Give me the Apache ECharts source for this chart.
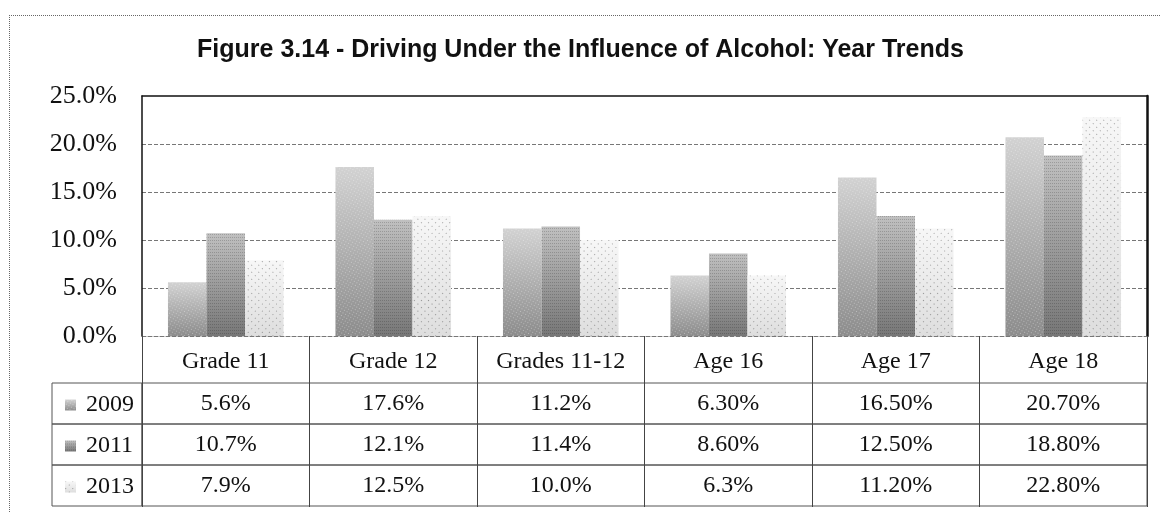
<!DOCTYPE html>
<html>
<head>
<meta charset="utf-8">
<script src="https://cdn.jsdelivr.net/npm/echarts@6/dist/echarts.min.js"></script>
<style>
  html, body { margin: 0; padding: 0; background: #fff; }
  #chart { position: absolute; left: 0; top: 0; width: 1161px; height: 513px; }
  #frame {
    position: absolute; left: 9px; top: 15px; width: 1160px; height: 510px;
    border-top: 1px dotted #666; border-left: 1px dotted #666; pointer-events: none;
  }
</style>
</head>
<body>
<div id="chart"></div>
<div id="frame"></div>
<script>
// 数据
const categories = ['Grade 11', 'Grade 12', 'Grades 11-12', 'Age 16', 'Age 17', 'Age 18']
const years = ['2009', '2011', '2013']
const values2009 = [5.6, 17.6, 11.2, 6.3, 16.5, 20.7]
const values2011 = [10.7, 12.1, 11.4, 8.6, 12.5, 18.8]
const values2013 = [7.9, 12.5, 10.0, 6.3, 11.2, 22.8]
// 表格里的文字（原图格式不统一，照抄）
const cells2009 = ['5.6%', '17.6%', '11.2%', '6.30%', '16.50%', '20.70%']
const cells2011 = ['10.7%', '12.1%', '11.4%', '8.60%', '12.50%', '18.80%']
const cells2013 = ['7.9%', '12.5%', '10.0%', '6.3%', '11.20%', '22.80%']
const yTicks = [0, 5, 10, 15, 20, 25]

const SERIF = 'Liberation Serif'
const ROW_TOP = 383
const ROW_H = 41

const chart = echarts.init(document.getElementById('chart'))

const gradient = (top, bottom) => ({
  type: 'linear',
  x: 0, y: 0, x2: 0, y2: 1,
  colorStops: [
    { offset: 0, color: top },
    { offset: 1, color: bottom }
  ]
})

const barStyles = [
  { color: gradient('#d2d2d2', '#8c8c8c'), decal: { symbol: 'rect', symbolSize: 1, dashArrayX: [1, 2], dashArrayY: [1, 2], color: 'rgba(255,255,255,0.35)' } },
  { color: gradient('#c0c0c0', '#777777'), decal: { symbol: 'rect', symbolSize: 1, dashArrayX: [1, 1], dashArrayY: [1, 2], color: 'rgba(0,0,0,0.18)' } },
  { color: gradient('#f7f7f7', '#dedede'), decal: { symbol: 'rect', symbolSize: 1, dashArrayX: [1, 4], dashArrayY: [1, 4], color: 'rgba(0,0,0,0.35)' } }
]

const rowCells = [cells2009, cells2011, cells2013]
const seriesValues = [values2009, values2011, values2013]

// 表格行：每行一个 grid，文字用类目轴标签
const rowGrids = rowCells.map((_, i) => ({
  left: 142, right: 14, top: ROW_TOP + i * ROW_H, height: ROW_H,
  show: true, borderColor: '#555', borderWidth: 1, backgroundColor: 'transparent'
}))
// 图例列的格子
const legendGrids = rowCells.map((_, i) => ({
  left: 52, width: 90, top: ROW_TOP + i * ROW_H, height: ROW_H,
  show: true, borderColor: '#555', borderWidth: 1, backgroundColor: 'transparent'
}))

const option = {
  animation: false,
  aria: { enabled: true, decal: { show: true } },
  title: {
    text: 'Figure 3.14 - Driving Under the Influence of Alcohol: Year Trends',
    left: 'center',
    top: 33,
    textStyle: { fontFamily: 'Liberation Sans', fontWeight: 'bold', fontSize: 25, color: '#111' }
  },
  legend: {
    orient: 'vertical',
    left: 60,
    top: 388,
    itemWidth: 11,
    itemHeight: 11,
    itemGap: 17,
    icon: 'rect',
    data: years,
    textStyle: { fontFamily: SERIF, fontSize: 24, lineHeight: 24, color: '#111', padding: [0, 0, 0, 5] }
  },
  grid: [
    { left: 142, right: 14, top: 96, height: 240 },
    ...rowGrids,
    ...legendGrids
  ],
  xAxis: [
    {
      type: 'category',
      gridIndex: 0,
      data: categories,
      axisLine: { lineStyle: { color: '#777', type: [4, 2] } },
      axisTick: { show: true, interval: 0, length: 171, lineStyle: { color: '#444' } },
      axisLabel: { interval: 0, margin: 14, fontFamily: SERIF, fontSize: 24, color: '#111' }
    },
    {
      type: 'category',
      gridIndex: 0,
      position: 'top',
      data: categories,
      axisLine: { onZero: false, lineStyle: { color: '#111', width: 1.5 } },
      axisTick: { show: false },
      axisLabel: { show: false }
    },
    ...rowCells.map((cells, i) => ({
      type: 'category',
      gridIndex: i + 1,
      position: 'top',
      data: cells,
      axisLine: { show: false },
      axisTick: { show: false },
      axisLabel: { inside: true, interval: 0, margin: 9, fontFamily: SERIF, fontSize: 24, color: '#111' }
    })),
    ...legendGrids.map((_, i) => ({ type: 'value', gridIndex: i + 4, show: false }))
  ],
  yAxis: [
    {
      type: 'value',
      gridIndex: 0,
      min: yTicks[0],
      max: yTicks[yTicks.length - 1],
      interval: yTicks[1] - yTicks[0],
      axisLine: { show: true, lineStyle: { color: '#111', width: 1.5 } },
      axisTick: { show: false },
      splitLine: { showMaxLine: false, lineStyle: { color: '#777', type: [4, 2] } },
      axisLabel: {
        margin: 25,
        fontFamily: SERIF,
        fontSize: 26,
        color: '#111',
        formatter: v => v.toFixed(1) + '%'
      }
    },
    {
      type: 'value',
      gridIndex: 0,
      position: 'right',
      min: yTicks[0],
      max: yTicks[yTicks.length - 1],
      axisLine: { show: true, onZero: false, lineStyle: { color: '#111', width: 2.5 } },
      axisTick: { show: false },
      axisLabel: { show: false },
      splitLine: { show: false }
    },
    ...rowCells.map((_, i) => ({ type: 'value', gridIndex: i + 1, show: false })),
    ...legendGrids.map((_, i) => ({ type: 'value', gridIndex: i + 4, show: false }))
  ],
  series: years.map((year, i) => ({
    name: year,
    type: 'bar',
    xAxisIndex: 0,
    yAxisIndex: 0,
    barGap: 0,
    barCategoryGap: '31%',
    itemStyle: barStyles[i],
    data: seriesValues[i]
  }))
}

chart.setOption(option)
</script>
</body>
</html>
